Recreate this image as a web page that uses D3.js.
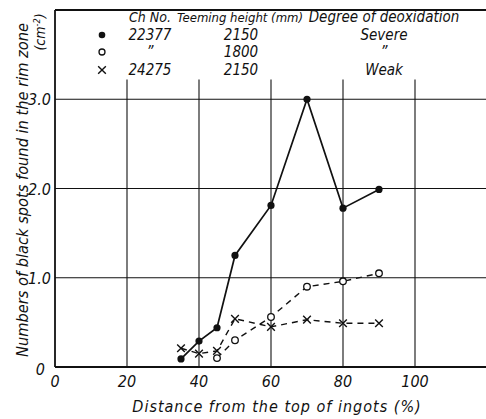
<!DOCTYPE html>
<html><head><meta charset="utf-8">
<script src="https://cdn.jsdelivr.net/npm/d3@7"></script>
<style>
body{margin:0;background:#fff;}
svg{display:block;}
text{font-family:"Liberation Sans Narrow","DejaVu Sans Condensed","Liberation Sans",sans-serif;font-style:italic;fill:#111;}
</style></head>
<body><svg id="c" width="486" height="419"></svg>
<script>
const xTicks = [0,20,40,60,80,100];
const yTicks = [1.0,2.0,3.0];
const yTickLabels = ["0","1.0","2.0","3.0"];
const xSevere2150 = [35,40,45,50,60,70,80,90];
const ySevere2150 = [0.09,0.29,0.44,1.25,1.81,3.0,1.78,1.99];
const xSevere1800 = [45,50,60,70,80,90];
const ySevere1800 = [0.10,0.30,0.56,0.90,0.96,1.05];
const xWeak2150 = [35,40,45,50,60,70,80,90];
const yWeak2150 = [0.21,0.15,0.18,0.54,0.45,0.53,0.49,0.49];
const legendChNo = ["22377","\u201D","24275"];
const legendHeight = ["2150","1800","2150"];
const legendDeox = ["Severe","\u201D","Weak"];

const svg = d3.select("#c");
const x = d3.scaleLinear().domain([0,120]).range([55,487]);
const y = d3.scaleLinear().domain([0,4]).range([367,10]);
const ink = "#111";

// grid
svg.append("g").selectAll("line").data(yTicks).join("line")
  .attr("x1",x(0)).attr("x2",486).attr("y1",d=>y(d)).attr("y2",d=>y(d))
  .attr("stroke",ink).attr("stroke-width",1.2);
svg.append("g").selectAll("line").data(xTicks.slice(1)).join("line")
  .attr("x1",d=>x(d)).attr("x2",d=>x(d)).attr("y1",y(3.22)).attr("y2",y(0))
  .attr("stroke",ink).attr("stroke-width",1.1);
// frame
svg.append("line").attr("x1",x(0)).attr("x2",486).attr("y1",y(4)).attr("y2",y(4)).attr("stroke",ink).attr("stroke-width",1.8);
svg.append("line").attr("x1",x(0)).attr("x2",x(0)).attr("y1",y(4)).attr("y2",y(0)).attr("stroke",ink).attr("stroke-width",1.8);
svg.append("line").attr("x1",x(0)).attr("x2",486).attr("y1",y(0)).attr("y2",y(0)).attr("stroke",ink).attr("stroke-width",1.8);

// tick labels
svg.append("g").selectAll("text").data(xTicks).join("text")
  .attr("x",d=>x(d)).attr("y",387).attr("text-anchor","middle")
  .attr("font-size",16).text(d=>String(d));
svg.append("g").selectAll("text").data([0].concat(yTicks)).join("text")
  .attr("x",(d,i)=>i===0?45:51).attr("y",d=>y(d)+(d===0?8:6)).attr("text-anchor","end")
  .attr("font-size",16).text((d,i)=>yTickLabels[i]);

// titles
svg.append("text").attr("x",277).attr("y",412).attr("text-anchor","middle")
  .attr("font-size",16).attr("letter-spacing",1).text("Distance  from the top of ingots (%)");
svg.append("text").attr("transform","translate(28,190) rotate(-90)").attr("text-anchor","middle")
  .attr("font-size",16).attr("textLength",334).attr("lengthAdjust","spacingAndGlyphs")
  .text("Numbers of black spots found in the rim zone");
const cm = svg.append("text").attr("transform","translate(45,32) rotate(-90)").attr("text-anchor","middle")
  .attr("font-size",14);
cm.append("tspan").text("(cm");
cm.append("tspan").attr("dy",-5).attr("font-size",9).text("-2");
cm.append("tspan").attr("dy",5).text(")");

// series
const line = d3.line().x(d=>x(d[0])).y(d=>y(d[1]));
const s1 = d3.zip(xSevere2150,ySevere2150);
const s2 = d3.zip(xSevere1800,ySevere1800);
const s3 = d3.zip(xWeak2150,yWeak2150);
svg.append("path").datum(s3).attr("d",line).attr("fill","none").attr("stroke",ink).attr("stroke-width",1.4).attr("stroke-dasharray","6,5");
svg.append("path").datum(s2).attr("d",line).attr("fill","none").attr("stroke",ink).attr("stroke-width",1.4).attr("stroke-dasharray","6,5");
svg.append("path").datum(s1).attr("d",line).attr("fill","none").attr("stroke",ink).attr("stroke-width",1.7);
svg.append("g").selectAll("circle").data(s1).join("circle")
  .attr("cx",d=>x(d[0])).attr("cy",d=>y(d[1])).attr("r",3.6).attr("fill",ink);
svg.append("g").selectAll("circle").data(s2).join("circle")
  .attr("cx",d=>x(d[0])).attr("cy",d=>y(d[1])).attr("r",3.3).attr("fill","#fff").attr("stroke",ink).attr("stroke-width",1.3);
const cross = d3.symbol().type(d3.symbolX).size(40);
svg.append("g").selectAll("path").data(s3).join("path")
  .attr("transform",d=>`translate(${x(d[0])},${y(d[1])})`).attr("d",cross)
  .attr("fill","none").attr("stroke",ink).attr("stroke-width",1.4);

// legend
const lg = svg.append("g");
lg.append("text").attr("x",150).attr("y",22).attr("text-anchor","middle").attr("font-size",14).text("Ch No.");
lg.append("text").attr("x",240).attr("y",22).attr("text-anchor","middle").attr("font-size",13).text("Teeming height (mm)");
lg.append("text").attr("x",384).attr("y",22).attr("text-anchor","middle").attr("font-size",15).text("Degree of deoxidation");
const rowsY = [40,57,75];
lg.append("circle").attr("cx",102).attr("cy",rowsY[0]-5).attr("r",3.3).attr("fill",ink);
lg.append("circle").attr("cx",102).attr("cy",rowsY[1]-5).attr("r",3).attr("fill","#fff").attr("stroke",ink).attr("stroke-width",1.3);
lg.append("path").attr("transform",`translate(102,${rowsY[2]-5})`).attr("d",cross).attr("fill","none").attr("stroke",ink).attr("stroke-width",1.4);
lg.selectAll(".c1").data(legendChNo).join("text").attr("x",150).attr("y",(d,i)=>rowsY[i]).attr("text-anchor","middle").attr("font-size",15).text(d=>d);
lg.selectAll(".c2").data(legendHeight).join("text").attr("x",241).attr("y",(d,i)=>rowsY[i]).attr("text-anchor","middle").attr("font-size",15).text(d=>d);
lg.selectAll(".c3").data(legendDeox).join("text").attr("x",384).attr("y",(d,i)=>rowsY[i]).attr("text-anchor","middle").attr("font-size",15).text(d=>d);
</script></body></html>
